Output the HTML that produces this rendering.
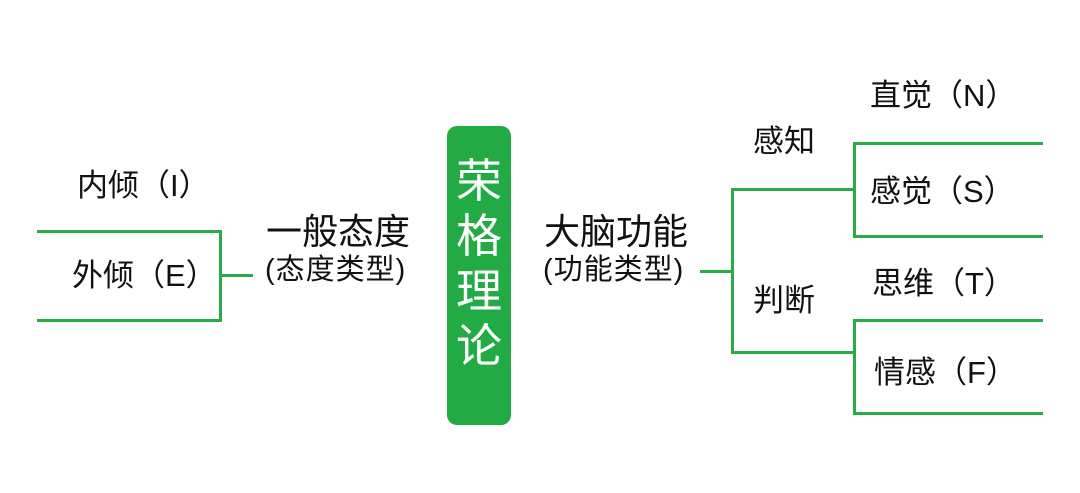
<!DOCTYPE html>
<html><head><meta charset="utf-8"><style>
body{margin:0;width:1080px;height:493px;background:#fff;position:relative;overflow:hidden;font-family:"Liberation Sans","Noto Sans CJK SC",sans-serif;color:#111}
.t{position:absolute;white-space:nowrap;line-height:1}
.l{position:absolute;background:#2aaa48}
</style></head><body>
<div class="l" style="left:37px;top:230px;width:185px;height:3px"></div>
<div class="l" style="left:37px;top:319px;width:185px;height:3px"></div>
<div class="l" style="left:219px;top:230px;width:3px;height:92px"></div>
<div class="l" style="left:219px;top:274px;width:34px;height:3px"></div>
<div class="l" style="left:700px;top:270px;width:33px;height:3px"></div>
<div class="l" style="left:731px;top:188px;width:3px;height:165px"></div>
<div class="l" style="left:731px;top:188px;width:125px;height:3px"></div>
<div class="l" style="left:731px;top:351px;width:125px;height:3px"></div>
<div class="l" style="left:853px;top:142px;width:3px;height:95px"></div>
<div class="l" style="left:853px;top:142px;width:190px;height:3px"></div>
<div class="l" style="left:853px;top:235px;width:190px;height:3px"></div>
<div class="l" style="left:853px;top:319px;width:3px;height:95px"></div>
<div class="l" style="left:853px;top:319px;width:190px;height:3px"></div>
<div class="l" style="left:853px;top:412px;width:190px;height:3px"></div>
<div style="position:absolute;left:447px;top:126px;width:64px;height:299px;background:#22aa44;border-radius:10px"></div>
<div class="t" style="left:456px;top:154px;font-size:46px;color:#fff;line-height:55px;width:46px;white-space:normal;text-align:center">荣格理论</div>
<div class="t" style="left:77px;top:170px;font-size:31px">内倾（I）</div>
<div class="t" style="left:72px;top:260px;font-size:31px">外倾（E）</div>
<div class="t" style="left:266px;top:214px;font-size:36px">一般态度</div>
<div class="t" style="left:265px;top:256px;font-size:29px;letter-spacing:1px">(态度类型)</div>
<div class="t" style="left:544px;top:214px;font-size:36px">大脑功能</div>
<div class="t" style="left:543px;top:256px;font-size:29px;letter-spacing:1px">(功能类型)</div>
<div class="t" style="left:753px;top:126px;font-size:31px">感知</div>
<div class="t" style="left:753px;top:285px;font-size:31px">判断</div>
<div class="t" style="left:870px;top:80px;font-size:31px">直觉（N）</div>
<div class="t" style="left:870px;top:176px;font-size:31px">感觉（S）</div>
<div class="t" style="left:872px;top:268px;font-size:31px">思维（T）</div>
<div class="t" style="left:874px;top:357px;font-size:31px">情感（F）</div>
</body></html>
